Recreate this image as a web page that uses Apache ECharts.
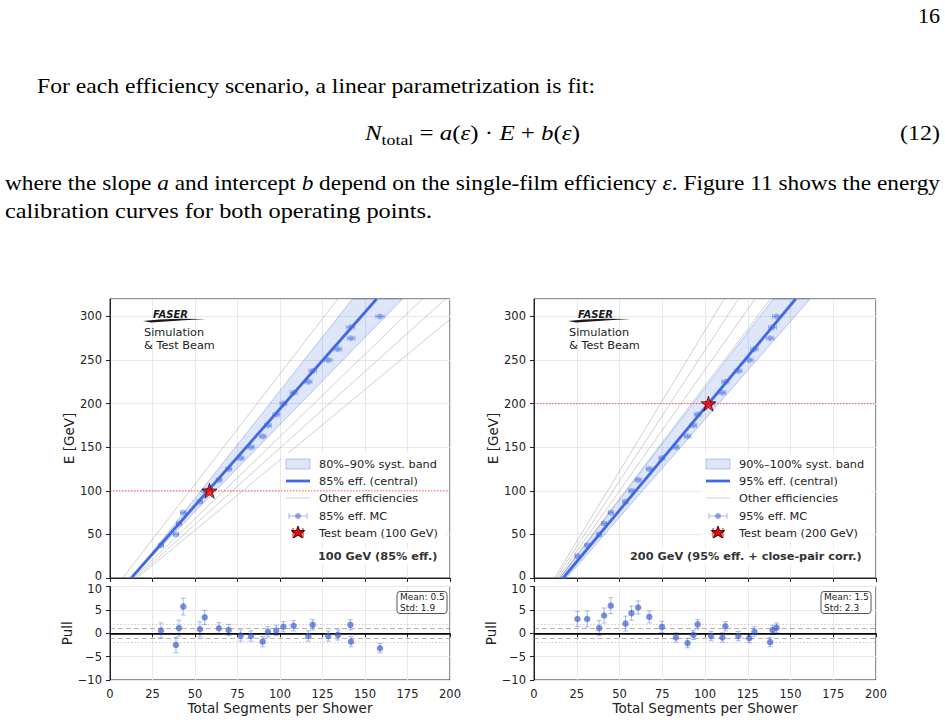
<!DOCTYPE html>
<html>
<head>
<meta charset="utf-8">
<script src="https://cdn.jsdelivr.net/npm/echarts@6/dist/echarts.min.js"></script>
<style>
body { margin: 0; width: 945px; height: 722px; overflow: hidden; background: #fff; }
#chart { position: absolute; left: 0; top: 0; width: 945px; height: 722px; }
.t { position: absolute; white-space: nowrap; font-family: 'Liberation Serif', 'DejaVu Serif', serif;
     font-size: 21px; line-height: 21px; color: #000; transform-origin: 0 0; }
.t i { font-style: italic; }
</style>
</head>
<body>
<div id="chart"></div>
<div class="t" data-w="22" style="left:918px;top:6px">16</div>
<div class="t" data-w="558" style="left:37px;top:76px">For each efficiency scenario, a linear parametrization is fit:</div>
<div class="t" data-w="215" style="left:365px;top:123px"><i>N</i><sub style="font-size:15px">total</sub> = <i>a</i>(<i>ε</i>) · <i>E</i> + <i>b</i>(<i>ε</i>)</div>
<div class="t" data-w="40" style="left:900px;top:123px">(12)</div>
<div class="t" data-w="935" style="left:5px;top:173px">where the slope <i>a</i> and intercept <i>b</i> depend on the single-film efficiency <i>ε</i>. Figure 11 shows the energy</div>
<div class="t" data-w="427" style="left:5px;top:201px">calibration curves for both operating points.</div>
<script>
// ---- data ----
// left: 85% efficiency
const energyL = [37.5, 50, 62.5, 75, 87.5, 100, 112.5, 125, 137.5, 150, 162.5, 175, 187.5, 200, 212.5, 225, 237.5, 250, 262.5, 275, 287.5, 300];
const segL = [30.0, 38.8, 40.6, 43.1, 52.9, 55.7, 64.1, 69.8, 76.9, 82.9, 89.8, 92.9, 97.8, 102.0, 108.0, 116.7, 119.2, 128.4, 134.1, 141.8, 141.4, 158.8];
const segErrL = [1.4, 1.5, 1.5, 1.6, 1.6, 1.7, 1.7, 1.8, 1.8, 1.9, 1.9, 2.0, 2.0, 2.0, 2.1, 2.1, 2.2, 2.2, 2.3, 2.3, 2.4, 2.4];
const pullL = [0.6, -2.5, 1.1, 5.7, 0.85, 3.4, 1.06, 0.7, -0.5, -0.6, -1.8, 0.3, 0.6, 1.4, 1.6, -0.6, 1.8, -0.6, -0.35, -1.8, 1.8, -3.2];
const pullErrL = [1.6, 1.6, 1.7, 1.8, 1.6, 1.5, 1.2, 1.2, 1.2, 1.1, 1.1, 1.1, 1.1, 1.1, 1.1, 1.1, 1.1, 1.1, 1.1, 1.1, 1.1, 1.0];
const beamL = [58.5, 100, 1.5]; // segments, energy, segment error
const centralL = [12.5, 0.451]; // intercept, slope (N = b + a E)
const bandL = [[13, 0.405], [12, 0.50]];
const otherL = [[7.5, 0.395], [14, 0.53], [15, 0.57], [16, 0.62]];
const statsL = ['Mean: 0.5', 'Std: 1.9'];

// right: 95% efficiency + close-pair correction
const energyR = [25, 37.5, 50, 62.5, 75, 87.5, 100, 112.5, 125, 137.5, 150, 162.5, 175, 187.5, 200, 212.5, 225, 237.5, 250, 262.5, 275, 287.5, 300];
const segR = [25.4, 31.1, 38.1, 41.0, 44.9, 53.5, 57.0, 60.9, 67.4, 74.8, 83.0, 89.8, 93.2, 95.7, 103.5, 110.2, 111.9, 119.5, 125.9, 128.9, 138.1, 139.5, 141.8];
const segErrR = [1.3, 1.4, 1.4, 1.5, 1.5, 1.6, 1.6, 1.7, 1.7, 1.8, 1.8, 1.9, 1.9, 1.9, 2.0, 2.0, 2.1, 2.1, 2.2, 2.2, 2.2, 2.3, 2.3];
const pullR = [3.05, 3.05, 1.1, 3.8, 5.9, 2.06, 4.3, 5.5, 3.5, 1.35, -0.9, -2.1, -0.35, 1.9, -0.6, -0.9, 1.5, -0.6, -1.05, 0.35, -1.9, 0.7, 1.2];
const pullErrR = [1.6, 1.7, 1.6, 1.6, 1.7, 1.6, 1.5, 1.4, 1.3, 1.2, 1.0, 1.0, 1.0, 1.0, 1.0, 1.0, 1.0, 1.0, 1.0, 1.0, 1.0, 1.0, 1.0];
const beamR = [102, 200, 1.5];
const centralR = [17, 0.425];
const bandR = [[15, 0.39], [19, 0.445]];
const otherR = [[12, 0.31], [13, 0.333], [14, 0.36], [15, 0.385]];
const statsR = ['Mean: 1.5', 'Std: 2.3'];

const eMax = 320;
const segMax = 200;
const blue = '#4169E1';
const font = 'DejaVu Sans';
const starPts = [[50, 0], [61.8, 35.1], [98.9, 35.1], [69, 56.7], [80.9, 91.9], [50, 70.2], [19.1, 91.9], [31, 56.7], [1.1, 35.1], [38.2, 35.1]];
const starPath = 'path://M' + starPts.map(p => p.join(',')).join(' L') + ' Z';

// text layout: stretch each line to the width it has on the page
document.fonts.ready.then(() => {
  document.querySelectorAll('.t').forEach(el => {
    const w = el.getBoundingClientRect().width;
    el.style.transform = 'scaleX(' + (Number(el.dataset.w) / w) + ')';
  });
});

function fitLine(p) {
  return [[p[0], 0], [p[0] + p[1] * eMax, eMax]];
}

function errBar(horizontal, color, cap) {
  return function (params, api) {
    const x = api.value(0), y = api.value(1), e = api.value(2);
    const p0 = horizontal ? api.coord([x - e, y]) : api.coord([x, y - e]);
    const p1 = horizontal ? api.coord([x + e, y]) : api.coord([x, y + e]);
    const st = { stroke: color, lineWidth: 1 };
    const caps = horizontal
      ? [[p0[0], p0[1] - cap, p0[0], p0[1] + cap], [p1[0], p1[1] - cap, p1[0], p1[1] + cap]]
      : [[p0[0] - cap, p0[1], p0[0] + cap, p0[1]], [p1[0] - cap, p1[1], p1[0] + cap, p1[1]]];
    const children = [{ type: 'line', shape: { x1: p0[0], y1: p0[1], x2: p1[0], y2: p1[1] }, style: st }];
    caps.forEach(c => children.push({ type: 'line', shape: { x1: c[0], y1: c[1], x2: c[2], y2: c[3] }, style: st }));
    return { type: 'group', children: children };
  };
}

function panelSeries(mi, pi, d) {
  const s = [];
  d.other.forEach(p => s.push({
    type: 'line', xAxisIndex: mi, yAxisIndex: mi, data: fitLine(p), showSymbol: false, silent: true,
    lineStyle: { color: 'rgba(150,150,150,0.45)', width: 1 }, z: 1
  }));
  s.push({
    type: 'custom', xAxisIndex: mi, yAxisIndex: mi, data: [[0, 0]], silent: true, z: 2,
    renderItem: function (params, api) {
      const lo = d.band[0], hi = d.band[1];
      const pts = [api.coord([lo[0], 0]), api.coord([lo[0] + lo[1] * eMax, eMax]),
                   api.coord([hi[0] + hi[1] * eMax, eMax]), api.coord([hi[0], 0])];
      return { type: 'polygon', shape: { points: pts },
        style: { fill: 'rgba(65,105,225,0.17)', stroke: 'rgba(65,105,225,0.35)', lineWidth: 1 } };
    }
  });
  s.push({
    type: 'line', xAxisIndex: mi, yAxisIndex: mi, data: fitLine(d.central), showSymbol: false, silent: true,
    lineStyle: { color: blue, width: 2.8 }, z: 4
  });
  // dotted test-beam energy line
  s.push({
    type: 'line', xAxisIndex: mi, yAxisIndex: mi, data: [[0, d.beam[1]], [segMax, d.beam[1]]], showSymbol: false,
    silent: true, z: 4, lineStyle: { color: '#ff3030', opacity: 0.8, type: [1.5, 1.5], width: 1 }
  });
  s.push({
    type: 'custom', xAxisIndex: mi, yAxisIndex: mi, z: 4, silent: true,
    data: d.seg.map((v, i) => [v, d.energy[i], d.segErr[i]]),
    renderItem: errBar(true, 'rgba(65,105,225,0.45)', 2.5)
  });
  s.push({
    type: 'scatter', xAxisIndex: mi, yAxisIndex: mi, z: 5, silent: true, symbolSize: 6,
    data: d.seg.map((v, i) => [v, d.energy[i]]),
    itemStyle: { color: 'rgba(65,105,225,0.6)' }
  });
  s.push({
    type: 'custom', xAxisIndex: mi, yAxisIndex: mi, z: 6, silent: true,
    data: [[d.beam[0], d.beam[1], d.beam[2]]],
    renderItem: errBar(true, '#e00000', 3)
  });
  s.push({
    type: 'scatter', xAxisIndex: mi, yAxisIndex: mi, z: 7, silent: true, symbol: starPath, symbolSize: 15,
    data: [[d.beam[0], d.beam[1]]],
    itemStyle: { color: '#ff0000', borderColor: '#000', borderWidth: 0.8 }
  });
  // pull panel
  s.push({
    type: 'custom', xAxisIndex: pi, yAxisIndex: pi, z: 4, silent: true,
    data: d.seg.map((v, i) => [v, d.pull[i], d.pullErr[i]]),
    renderItem: errBar(false, 'rgba(65,105,225,0.45)', 2.5)
  });
  s.push({
    type: 'scatter', xAxisIndex: pi, yAxisIndex: pi, z: 5, silent: true, symbolSize: 6.5,
    data: d.seg.map((v, i) => [v, d.pull[i]]),
    itemStyle: { color: 'rgba(58,92,205,0.85)' },
    markLine: { symbol: 'none', silent: true, label: { show: false }, data: [
      { yAxis: 0, lineStyle: { color: '#000', width: 1.5, type: 'solid' } },
      { yAxis: 1, lineStyle: { color: 'rgba(128,128,128,0.6)', width: 1, type: [5, 3] } },
      { yAxis: -1, lineStyle: { color: 'rgba(128,128,128,0.6)', width: 1, type: [5, 3] } },
      { yAxis: 2, lineStyle: { color: 'rgba(128,128,128,0.4)', width: 1, type: [1.5, 2] } },
      { yAxis: -2, lineStyle: { color: 'rgba(128,128,128,0.4)', width: 1, type: [1.5, 2] } }
    ] }
  });
  return s;
}

const labelStyle = { fontFamily: font, fontSize: 11.5, color: '#222' };
const nameStyle = { fontFamily: font, fontSize: 13.5, color: '#222' };
const tickStyle = { show: true, length: 4, lineStyle: { color: '#222' } };
const split = { show: true, lineStyle: { color: '#e8e8e8', width: 1 } };
const minus = v => (v < 0 ? '\u2212' + Math.abs(v) : String(v));

// the main panel's "0" and the pull panel's "10" sit close together: nudge them apart a little
const mainYLabel = Object.assign({
  showMaxLabel: false,
  formatter: v => (v === 0 ? '{lo|0}' : String(v)),
  rich: { lo: Object.assign({ padding: [0, 0, 5, 0] }, labelStyle) }
}, labelStyle);
const pullYLabel = Object.assign({
  formatter: v => (v === 10 ? '{hi|10}' : minus(v)),
  rich: { hi: Object.assign({ padding: [4, 0, 0, 0] }, labelStyle) }
}, labelStyle);

function axes(gMain, gPull) {
  return {
    x: [
      { type: 'value', gridIndex: gMain, min: 0, max: segMax, interval: 25, axisLabel: { show: false },
        axisTick: tickStyle, axisLine: { lineStyle: { color: '#222' } }, splitLine: split },
      { type: 'value', gridIndex: gPull, min: 0, max: segMax, interval: 25, axisLabel: labelStyle,
        axisTick: tickStyle, axisLine: { lineStyle: { color: '#222' } }, splitLine: split,
        name: 'Total Segments per Shower', nameLocation: 'middle', nameGap: 20, nameTextStyle: nameStyle }
    ],
    y: [
      { type: 'value', gridIndex: gMain, min: 0, max: eMax, interval: 50, axisLabel: mainYLabel,
        axisTick: tickStyle, axisLine: { show: true, lineStyle: { color: '#222' } }, splitLine: split,
        name: 'E [GeV]', nameLocation: 'middle', nameGap: 11, nameRotate: 90, nameTextStyle: nameStyle },
      { type: 'value', gridIndex: gPull, min: -10, max: 10, interval: 5, axisLabel: pullYLabel,
        axisTick: tickStyle, axisLine: { show: true, lineStyle: { color: '#222' } }, splitLine: split,
        name: 'Pull', nameLocation: 'middle', nameGap: 36, nameRotate: 90, nameTextStyle: nameStyle }
    ]
  };
}

const axL = axes(0, 1), axR = axes(2, 3);
const gridBase = { show: true, borderColor: '#222', borderWidth: 1, backgroundColor: 'transparent', containLabel: false };

function starPolygon(x, y, w, h) {
  return starPts.map(p => [x + p[0] * w / 100, y + p[1] * h / 100]);
}

function legendGraphics(x0, xRight, eff, band, beamE, note) {
  const rows = [464, 481, 498, 516, 533];
  const tx = x0 + 33;
  const errCol = 'rgba(65,105,225,0.45)';
  const items = [
    // legend frame (white, hides the grid underneath)
    { type: 'rect', z: 3, shape: { x: x0 - 5, y: 453, width: xRight - x0 + 4, height: 90 }, style: { fill: 'rgba(255,255,255,0.9)' } },
    { type: 'rect', z: 3, shape: { x: note[1] - 3, y: 548, width: xRight - note[1] + 2, height: 17 }, style: { fill: 'rgba(255,255,255,0.9)' } },
    { type: 'rect', z: 5, shape: { x: x0, y: rows[0] - 5, width: 24, height: 10 },
      style: { fill: 'rgba(65,105,225,0.17)', stroke: 'rgba(65,105,225,0.35)' } },
    { type: 'line', z: 5, shape: { x1: x0, y1: rows[1], x2: x0 + 24, y2: rows[1] }, style: { stroke: blue, lineWidth: 2.8 } },
    { type: 'line', z: 5, shape: { x1: x0, y1: rows[2], x2: x0 + 24, y2: rows[2] }, style: { stroke: 'rgba(150,150,150,0.45)', lineWidth: 1 } },
    { type: 'line', z: 5, shape: { x1: x0 + 3, y1: rows[3], x2: x0 + 21, y2: rows[3] }, style: { stroke: errCol, lineWidth: 1 } },
    { type: 'line', z: 5, shape: { x1: x0 + 3, y1: rows[3] - 3, x2: x0 + 3, y2: rows[3] + 3 }, style: { stroke: errCol, lineWidth: 1 } },
    { type: 'line', z: 5, shape: { x1: x0 + 21, y1: rows[3] - 3, x2: x0 + 21, y2: rows[3] + 3 }, style: { stroke: errCol, lineWidth: 1 } },
    { type: 'circle', z: 5, shape: { cx: x0 + 12, cy: rows[3], r: 3 }, style: { fill: 'rgba(65,105,225,0.6)' } },
    { type: 'line', z: 5, shape: { x1: x0 + 7, y1: rows[4], x2: x0 + 17, y2: rows[4] }, style: { stroke: '#e00000', lineWidth: 1 } },
    { type: 'line', z: 5, shape: { x1: x0 + 7, y1: rows[4] - 5, x2: x0 + 7, y2: rows[4] + 5 }, style: { stroke: '#e00000', lineWidth: 1 } },
    { type: 'line', z: 5, shape: { x1: x0 + 17, y1: rows[4] - 5, x2: x0 + 17, y2: rows[4] + 5 }, style: { stroke: '#e00000', lineWidth: 1 } },
    { type: 'polygon', z: 6, shape: { points: starPolygon(x0 + 5, rows[4] - 7, 14, 13) },
      style: { fill: '#ff0000', stroke: '#000', lineWidth: 0.8 } }
  ];
  const labels = [band + ' syst. band', eff + ' eff. (central)', 'Other efficiencies', eff + ' eff. MC', 'Test beam (' + beamE + ' GeV)'];
  labels.forEach((t, i) => items.push({ type: 'text', z: 6, x: tx, y: rows[i],
    style: { text: t, fontFamily: font, fontSize: 11.3, fill: '#222', verticalAlign: 'middle' } }));
  items.push({ type: 'text', z: 6, x: note[1], y: 556,
    style: { text: note[0], fontFamily: font, fontSize: 11.3, fontWeight: 'bold', fill: '#333', verticalAlign: 'middle' } });
  return items;
}

function logo(x0) {
  return [
    { type: 'text', z: 6, x: x0 + 9, y: 314.5, style: { text: 'FASER', fontFamily: font, fontSize: 10, fontStyle: 'italic',
      fontWeight: 'bold', fill: '#1a1a1a', letterSpacing: 1.2, verticalAlign: 'middle' } },
    { type: 'polygon', z: 6, shape: { points: [[x0 - 1, 321], [x0 + 15, 319.4], [x0 + 35, 318.7], [x0 + 62, 318.9],
      [x0 + 40, 320.3], [x0 + 18, 321.8], [x0 + 7, 322.6]] }, style: { fill: '#1a1a1a' } },
    { type: 'text', z: 6, x: x0, y: 332, style: { text: 'Simulation', fontFamily: font, fontSize: 11.3, fill: '#222', verticalAlign: 'middle' } },
    { type: 'text', z: 6, x: x0, y: 345.5, style: { text: '& Test Beam', fontFamily: font, fontSize: 11.3, fill: '#222', verticalAlign: 'middle' } }
  ];
}

function statsBox(xr, lines) {
  return [
    { type: 'rect', shape: { x: xr - 50, y: 591.5, width: 50, height: 22, r: 3 },
      style: { fill: '#fff', stroke: '#555', lineWidth: 1 }, z: 100 },
    { type: 'text', x: xr - 47, y: 597, z: 101, style: { text: lines[0], fontFamily: font, fontSize: 9, fill: '#222', verticalAlign: 'middle' } },
    { type: 'text', x: xr - 47, y: 607.5, z: 101, style: { text: lines[1], fontFamily: font, fontSize: 9, fill: '#222', verticalAlign: 'middle' } }
  ];
}

const chart = echarts.init(document.getElementById('chart'), null, { renderer: 'svg' });
chart.setOption({
  animation: false,
  backgroundColor: '#fff',
  grid: [
    Object.assign({ left: 110, top: 299, width: 340, height: 279 }, gridBase),
    Object.assign({ left: 110, top: 586.5, width: 340, height: 93.5 }, gridBase),
    Object.assign({ left: 534, top: 299, width: 342, height: 279 }, gridBase),
    Object.assign({ left: 534, top: 586.5, width: 342, height: 93.5 }, gridBase)
  ],
  xAxis: [axL.x[0], axL.x[1], axR.x[0], axR.x[1]],
  yAxis: [axL.y[0], axL.y[1], axR.y[0], axR.y[1]],
  series: panelSeries(0, 1, { energy: energyL, seg: segL, segErr: segErrL, pull: pullL, pullErr: pullErrL,
      beam: beamL, central: centralL, band: bandL, other: otherL })
    .concat(panelSeries(2, 3, { energy: energyR, seg: segR, segErr: segErrR, pull: pullR, pullErr: pullErrR,
      beam: beamR, central: centralR, band: bandR, other: otherR })),
  graphic: []
    .concat(legendGraphics(286, 447, '85%', '80%\u201390%', 100, ['100 GeV (85% eff.)', 318]))
    .concat(legendGraphics(706, 872, '95%', '90%\u2013100%', 200, ['200 GeV (95% eff. + close-pair corr.)', 630]))
    .concat(logo(144)).concat(logo(569))
    .concat(statsBox(447, statsL)).concat(statsBox(871, statsR))
});
</script>
</body>
</html>
